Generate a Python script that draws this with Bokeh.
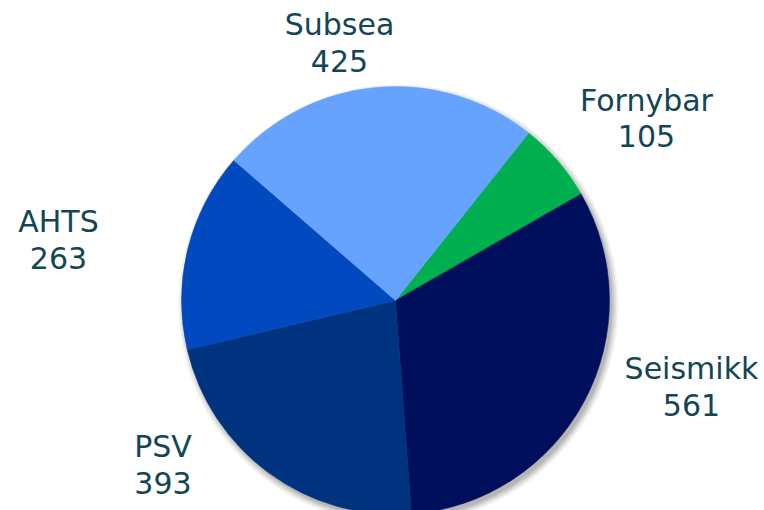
import math
from bokeh.plotting import figure
from bokeh.models import ColumnDataSource, Range1d
from bokeh.core.properties import value
from bokeh.embed import file_html
from bokeh.resources import INLINE

# ---- data ----
categories = ["Fornybar", "Seismikk", "PSV", "AHTS", "Subsea"]
values = [105, 561, 393, 263, 425]
colors = ["#00B050", "#000F5C", "#00337F", "#0049BF", "#66A3FF"]

# ---- layout ----
W, H = 764, 510
cx, cy = 395, 210          # pie centre (figure px, y from bottom)
R = 214                    # pie radius (px)
start_deg = 38.5           # first slice starts here, clockwise from 12 o'clock
# label anchor offsets from pie centre (px, screen directions: +x right, +y down)
label_dx = [251, 296, -232.5, -337, -56]
label_dy = [-189.5, 79, 157, -68, -265]
baseline_fix = 11          # renderer places alphabetic baseline slightly low
line_gap = 36
text_color = "#134654"
font = "DejaVu Sans"

total = sum(values)
starts, ends = [], []
acc = start_deg
for v in values:
    span = v / total * 360.0
    a0, a1 = acc, acc + span
    # convert clockwise-from-top to bokeh anticlockwise-from-+x
    starts.append(math.radians(90 - a1))
    ends.append(math.radians(90 - a0))
    acc = a1

src = ColumnDataSource(dict(
    x=[cx] * len(values), y=[cy] * len(values),
    start=starts, end=ends, color=colors, cat=categories,
    val=[str(v) for v in values],
    lx=[cx + d for d in label_dx],
    ly1=[cy - d + baseline_fix for d in label_dy],
    ly2=[cy - d + baseline_fix - line_gap for d in label_dy],
))

p = figure(width=W, height=H, output_backend="svg", toolbar_location=None,
           x_range=Range1d(0, W), y_range=Range1d(0, H), min_border=0)
p.axis.visible = False
p.grid.visible = False
p.outline_line_color = None
p.background_fill_color = "white"
p.border_fill_color = "white"

# soft shadow
for k, a in [(6, 0.05), (4, 0.07), (2, 0.09), (0, 0.10)]:
    p.circle(x=cx + 3, y=cy - 4, radius=R + k, fill_color="#000000",
             fill_alpha=a, line_color=None)

p.wedge(x="x", y="y", radius=R, start_angle="start", end_angle="end",
        fill_color="color", line_color="color", line_width=0.5, source=src)

p.text(x="lx", y="ly1", text="cat", source=src, text_font=value(font),
       text_font_size="30px", text_align="center", text_baseline="alphabetic",
       text_color=text_color)
p.text(x="lx", y="ly2", text="val", source=src, text_font=value(font),
       text_font_size="30px", text_align="center", text_baseline="alphabetic",
       text_color=text_color)

open("out.html", "w").write(file_html(p, INLINE))
